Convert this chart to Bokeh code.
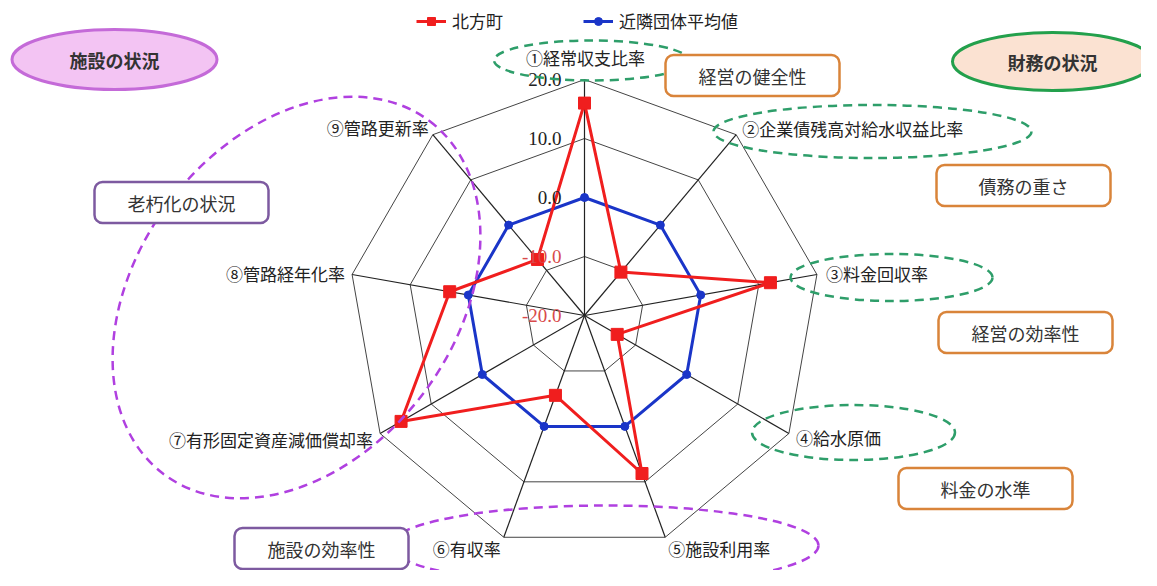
import math
from bokeh.plotting import figure
from bokeh.models import Range1d, ColumnDataSource, Legend, LegendItem
from bokeh.core.properties import value
from bokeh.embed import file_html
from bokeh.resources import INLINE

# ---------------- data ----------------
categories = ["①経常収支比率", "②企業債残高対給水収益比率", "③料金回収率", "④給水原価",
              "⑤施設利用率", "⑥有収率", "⑦有形固定資産減価償却率", "⑧管路経年化率", "⑨管路更新率"]
hokubo = [16.0, -10.4, 12.0, -13.6, 8.5, -5.6, 15.9, 3.2, -7.6]
neighbor = [0.0, 0.0, 0.0, 0.0, 0.0, 0.0, 0.0, 0.0, 0.0]
series_names = ["北方町", "近隣団体平均値"]
ticks = [-20, -10, 0, 10, 20]
tick_labels = ["-20.0", "-10.0", "0.0", "10.0", "20.0"]

group_boxes = ["経営の健全性", "債務の重さ", "経営の効率性", "料金の水準", "老朽化の状況", "施設の効率性"]
group_titles = ["施設の状況", "財務の状況"]

# ---------------- layout ----------------
W, H = 1141, 570
def Y(py):
    return 586 - py

CX, CY = 584, Y(315)
R = 236
VMIN, VMAX = ticks[0], ticks[-1]
N = len(categories)

def pos(v, i):
    r = (v - VMIN) / (VMAX - VMIN) * R
    a = math.radians(i * 360.0 / N)
    return CX + r * math.sin(a), CY + r * math.cos(a)

JP = value("Noto Sans CJK JP")
SERIF = value("Liberation Serif")

p = figure(width=W, height=H, x_range=Range1d(0, W), y_range=Range1d(Y(H), Y(0)),
           output_backend="svg", toolbar_location=None, min_border=0,
           x_axis_location=None, y_axis_location=None)
p.grid.visible = False
p.outline_line_color = None
p.background_fill_color = "white"

# rings
ring_xs, ring_ys = [], []
for t in ticks[1:]:
    pts = [pos(t, i) for i in range(N)]
    ring_xs.append([q[0] for q in pts] + [pts[0][0]])
    ring_ys.append([q[1] for q in pts] + [pts[0][1]])
p.multi_line(ring_xs, ring_ys, line_color="#444444", line_width=1)

# spokes
outer = [pos(VMAX, i) for i in range(N)]
p.segment(x0=[CX] * N, y0=[CY] * N, x1=[q[0] for q in outer], y1=[q[1] for q in outer],
          line_color="#222222", line_width=1.2)

# series
def closed(vals):
    pts = [pos(v, i) for i, v in enumerate(vals)]
    return [q[0] for q in pts], [q[1] for q in pts]

bx, by = closed(neighbor)
rx, ry = closed(hokubo)
bl = p.line(bx + [bx[0]], by + [by[0]], line_color="#1a35c8", line_width=3)
bm = p.scatter(bx, by, marker="circle", size=8, fill_color="#1a35c8", line_color="#1a35c8")
rl = p.line(rx + [rx[0]], ry + [ry[0]], line_color="#f01e1e", line_width=3)
rm = p.scatter(rx, ry, marker="square", size=12, fill_color="#f01e1e", line_color="#f01e1e")

# tick labels
tsrc = ColumnDataSource(dict(
    x=[561] * len(ticks),
    y=[CY + (t - VMIN) / (VMAX - VMIN) * R for t in ticks],
    text=tick_labels,
    color=["#d84a4a" if t < 0 else "#222222" for t in ticks]))
p.text("x", "y", text="text", source=tsrc, text_color="color", text_align="right",
       text_baseline="middle", text_font=SERIF, text_font_size="19px")

# dashed group ellipses
p.ellipse(x=[591, 872, 891, 853], y=[Y(60), Y(131), Y(277), Y(432)],
          width=[195, 318, 202, 203], height=[40, 53, 47, 55],
          fill_color=None, line_color="#2e9e6a", line_width=2.5, line_dash="9 6")
p.ellipse(x=[604], y=[Y(545)], width=[428], height=[80],
          fill_color=None, line_color="#b040e0", line_width=2.5, line_dash="9 6")
p.ellipse(x=[296], y=[Y(297)], width=[442], height=[318], angle=[math.radians(53)],
          fill_color=None, line_color="#b040e0", line_width=2.5, line_dash="9 6")

# category labels
offsets = [(1, -22, "center"), (6, -6, "left"), (9, -1, "left"), (7, 4, "left"),
           (3, 11, "left"), (-3, 11, "right"), (-7, 6, "right"), (-7, -1, "right"), (-4, -7, "right")]
for align in ["left", "center", "right"]:
    xs, ys, tx = [], [], []
    for i, (dx, dy, a) in enumerate(offsets):
        if a != align:
            continue
        ox, oy = outer[i]
        xs.append(ox + dx)
        ys.append(oy - dy)
        tx.append(categories[i])
    p.text(xs, ys, text=tx, text_align=align, text_baseline="middle", text_font=JP,
           text_font_size="17px", text_color="#222222")

# title ellipses
p.ellipse(x=[114], y=[Y(59)], width=[205], height=[60], fill_color="#f3c4f3",
          line_color="#c46ad8", line_width=3)
p.ellipse(x=[1052], y=[Y(61)], width=[200], height=[58], fill_color="#fbe2d2",
          line_color="#23a04c", line_width=3)
p.text([114, 1052], [Y(59), Y(61)], text=group_titles, text_align="center", text_baseline="middle",
       text_font=JP, text_font_size="18px", text_color="#333333", text_font_style="bold")

# group boxes
bxs = [752, 1023, 1025, 985, 181, 321]
bys = [Y(75), Y(185), Y(332), Y(488), Y(202), Y(548)]
bcol = ["#d9843a"] * 4 + ["#7d5aa0"] * 2
p.rect(x=bxs, y=bys, width=174, height=41, fill_color="white", line_color=bcol,
       line_width=2.5, border_radius=8)
p.text(bxs, bys, text=group_boxes, text_align="center", text_baseline="middle",
       text_font=JP, text_font_size="18px", text_color="#333333")

# legend
legend = Legend(items=[LegendItem(label=series_names[0], renderers=[rl, rm]),
                       LegendItem(label=series_names[1], renderers=[bl, bm])],
                orientation="horizontal", location=(416, 537), spacing=80,
                glyph_width=30, label_standoff=6, padding=0, margin=0,
                border_line_color=None, background_fill_alpha=0,
                label_text_font="Noto Sans CJK JP", label_text_font_size="17px",
                label_text_color="#222222")
p.add_layout(legend)

open("out.html", "w").write(file_html(p, INLINE))
